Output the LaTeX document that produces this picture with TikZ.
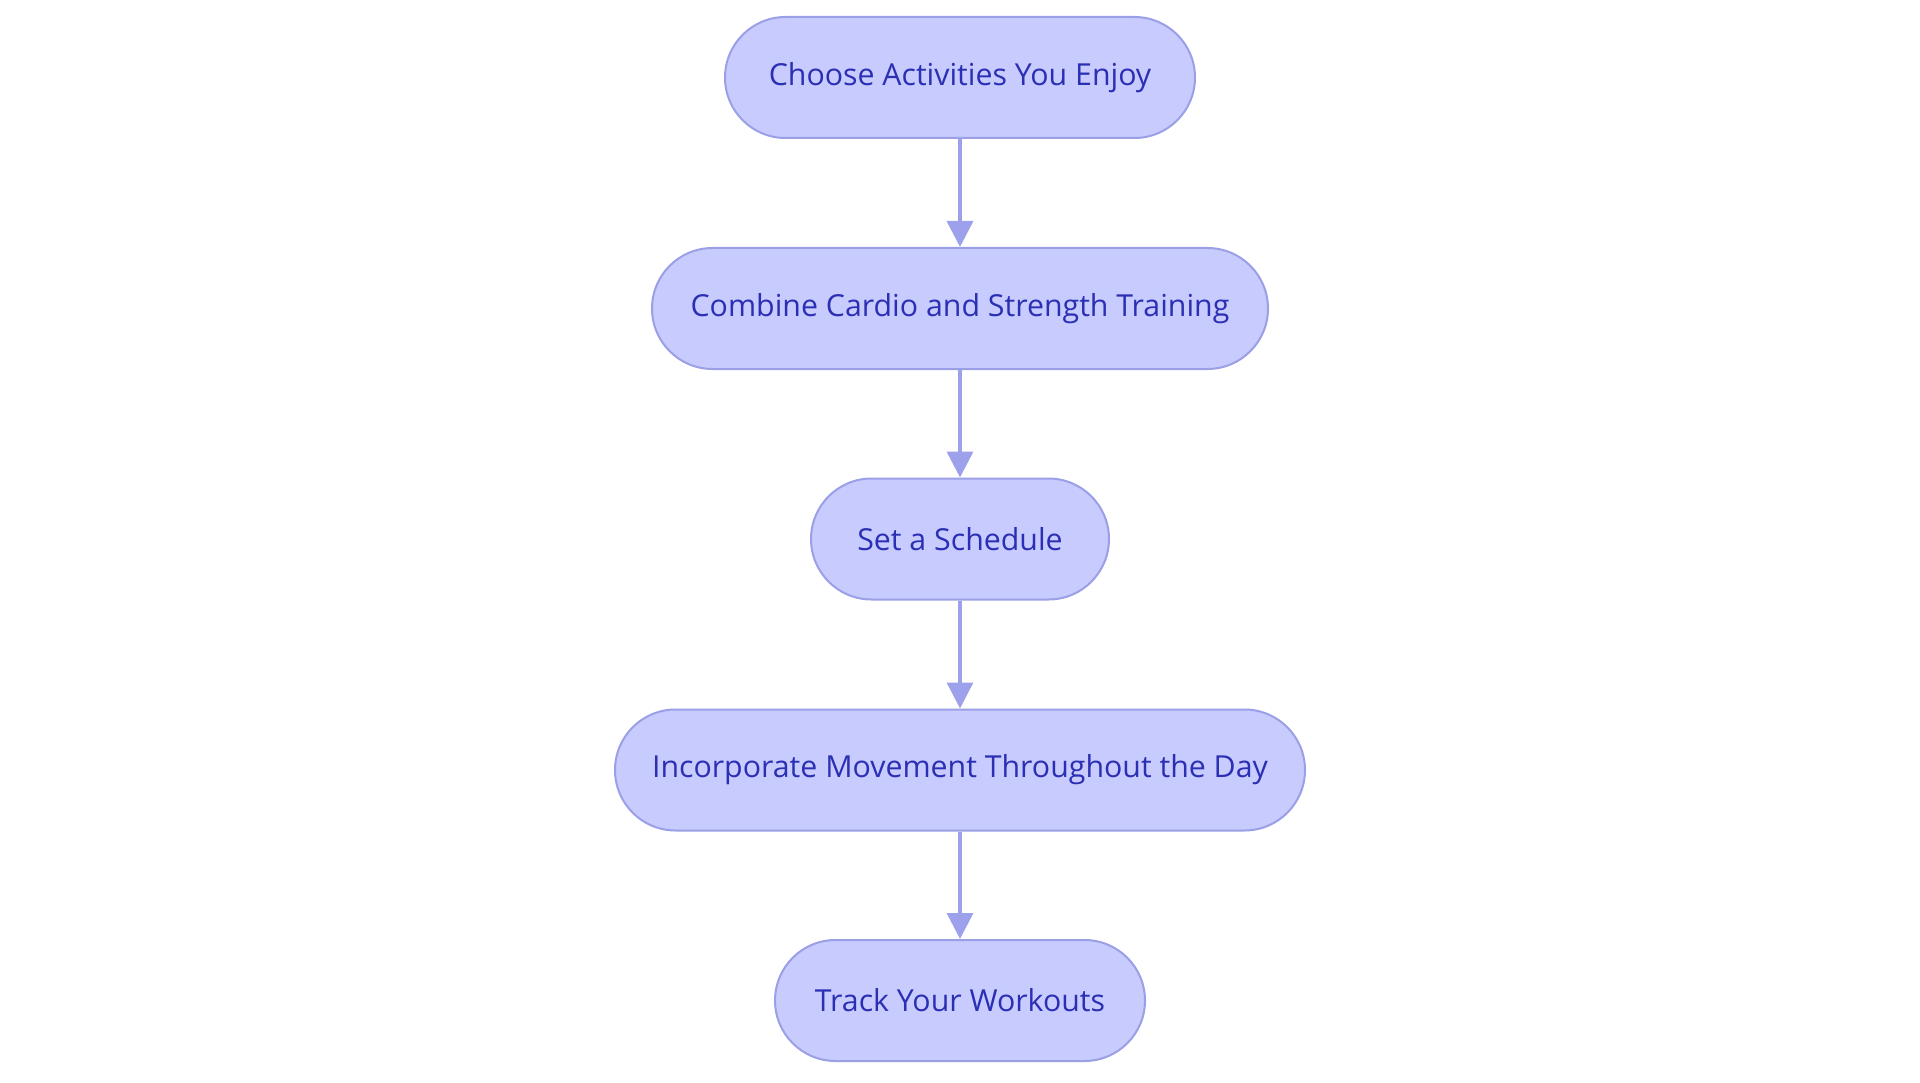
\documentclass[tikz,border=0pt]{standalone}
\usepackage{fontspec}
\setmainfont{Open Sans}
\usetikzlibrary{arrows.meta}
\definecolor{boxfill}{HTML}{C8CBFE}
\definecolor{boxdraw}{HTML}{9A9FE6}
\definecolor{txt}{HTML}{2B2FB3}
\definecolor{arrc}{HTML}{9DA1EC}
\tikzset{
  stepbox/.style={draw=boxdraw, fill=boxfill, line width=2pt, rounded corners=60.5pt,
    minimum height=121pt, inner sep=0pt, text=txt,
    font=\fontsize{30.3}{36}\selectfont},
  arr/.style={draw=arrc, line width=3.5pt, -{Triangle[width=26pt,length=26pt]}}
}
\begin{document}
\begin{tikzpicture}[x=1pt,y=-1pt]
\useasboundingbox (0,0) rectangle (1920,1083);
\node[stepbox, minimum width=470pt] (n1) at (960,77.5) {Choose Activities You Enjoy};
\node[stepbox, minimum width=616pt] (n2) at (960,308.5) {Combine Cardio and Strength Training};
\node[stepbox, minimum width=298pt] (n3) at (960,539) {Set a Schedule};
\node[stepbox, minimum width=690pt] (n4) at (960,770) {Incorporate Movement Throughout the Day};
\node[stepbox, minimum width=370pt] (n5) at (960,1000.5) {Track Your Workouts};
\draw[arr] (n1) -- (n2);
\draw[arr] (n2) -- (n3);
\draw[arr] (n3) -- (n4);
\draw[arr] (n4) -- (n5);
\end{tikzpicture}
\end{document}
